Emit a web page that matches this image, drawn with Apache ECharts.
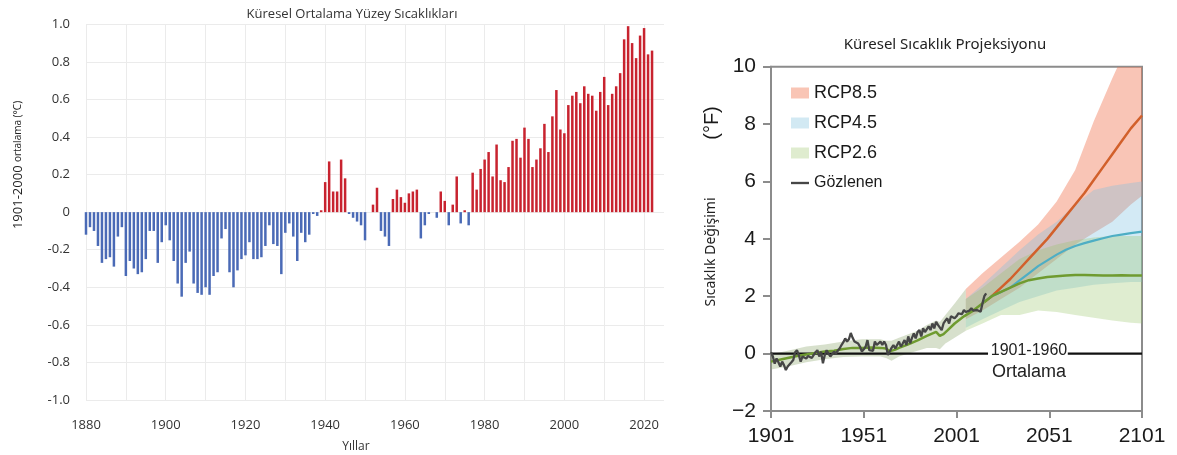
<!DOCTYPE html>
<html><head><meta charset="utf-8">
<script src="https://cdn.jsdelivr.net/npm/echarts@6/dist/echarts.min.js"></script>
<style>html,body{margin:0;padding:0;background:#fff}#c{width:1177px;height:455px}</style>
</head><body><div id="c"></div><script>
// ---------- Left chart: global surface temperature anomalies (°C vs 1901-2000) ----------
const anomalyStartYear = 1880;
const anomalyValues = [
  -0.12,-0.08,-0.10,-0.18,-0.27,-0.25,-0.24,-0.29,-0.13,-0.08, // 1880s
  -0.34,-0.26,-0.30,-0.33,-0.32,-0.25,-0.10,-0.10,-0.27,-0.16, // 1890s
  -0.07,-0.15,-0.26,-0.38,-0.45,-0.27,-0.21,-0.38,-0.43,-0.44, // 1900s
  -0.40,-0.44,-0.34,-0.32,-0.14,-0.09,-0.32,-0.40,-0.31,-0.25, // 1910s
  -0.23,-0.16,-0.25,-0.25,-0.24,-0.18,-0.07,-0.17,-0.18,-0.33, // 1920s
  -0.11,-0.06,-0.13,-0.26,-0.11,-0.16,-0.12,-0.01,-0.02, 0.01, // 1930s
   0.16, 0.27, 0.11, 0.11, 0.28, 0.18,-0.01,-0.03,-0.05,-0.07, // 1940s
  -0.15, 0.00, 0.04, 0.13,-0.10,-0.13,-0.18, 0.07, 0.12, 0.08, // 1950s
   0.05, 0.10, 0.11, 0.12,-0.14,-0.07,-0.01, 0.00,-0.03, 0.11, // 1960s
   0.06,-0.07, 0.04, 0.19,-0.06, 0.01,-0.07, 0.21, 0.12, 0.23, // 1970s
   0.28, 0.32, 0.19, 0.36, 0.17, 0.16, 0.24, 0.38, 0.39, 0.29, // 1980s
   0.45, 0.39, 0.24, 0.28, 0.34, 0.47, 0.32, 0.51, 0.65, 0.44, // 1990s
   0.42, 0.57, 0.62, 0.64, 0.58, 0.67, 0.63, 0.62, 0.54, 0.64, // 2000s
   0.72, 0.57, 0.63, 0.67, 0.74, 0.92, 0.99, 0.90, 0.82, 0.94, // 2010s
   0.98, 0.84, 0.86                                            // 2020s
];
const leftXTicks = [1880, 1900, 1920, 1940, 1960, 1980, 2000, 2020];

// ---------- Right chart: global temperature projection (°F vs 1901-1960) ----------
const obsStartYear = 1901;
const observedF = [
   0.05,-0.10,-0.35,-0.17,-0.30,-0.45,-0.28,-0.40,-0.57,        // 1901-1909
  -0.45,-0.40,-0.30,-0.22, 0.05, 0.12,-0.05,-0.28,-0.10,-0.12, // 1910s
  -0.17,-0.08,-0.05,-0.15,-0.17, 0.05, 0.12,-0.10, 0.07,-0.34, // 1920s
  -0.05, 0.12, 0.00,-0.10,-0.05, 0.07, 0.00, 0.10, 0.18, 0.30, // 1930s
   0.40, 0.53, 0.42, 0.50, 0.72, 0.55, 0.42, 0.47, 0.35, 0.24, // 1940s
   0.07, 0.15, 0.24, 0.47, 0.12, 0.07, 0.10, 0.42, 0.30, 0.35, // 1950s
   0.42, 0.30, 0.42, 0.30,-0.05, 0.07, 0.20, 0.30, 0.18, 0.30, // 1960s
   0.42, 0.24, 0.35, 0.47, 0.30, 0.60, 0.36, 0.55, 0.70, 0.53, // 1970s
   0.75, 0.82, 0.60, 0.88, 0.75, 0.70, 0.95, 0.82, 1.05, 0.88, // 1980s
   1.11, 1.00, 0.94, 0.82, 1.05, 1.15, 1.23, 1.05, 1.30, 1.35, // 1990s
   1.23, 1.30, 1.40, 1.35, 1.38, 1.52, 1.45, 1.46, 1.50, 1.58, // 2000s
   1.50, 1.46, 1.52, 1.58, 1.46, 1.75, 2.00, 2.10              // 2010s
];
const histModelYears = [1901,1905,1910,1915,1920,1925,1930,1935,1940,1945,1950,1955,1960,1963,1965,1968,1970,1975,1980,1985,1990,1992,1994,1996,2000,2005,2010,2016];
const histModelF     = [-0.28,-0.22,-0.15,-0.08,-0.03,0.02,0.07,0.10,0.16,0.20,0.20,0.21,0.20,0.18,0.08,0.14,0.20,0.32,0.46,0.62,0.76,0.62,0.68,0.80,1.05,1.30,1.50,1.80];
const histBandYears = [1901,1910,1920,1930,1940,1950,1960,1963,1966,1970,1980,1985,1990,1992,1995,2000,2006];
const histBandLow   = [-0.55,-0.45,-0.30,-0.20,-0.12,-0.10,-0.10,-0.15,-0.25,-0.10,0.10,0.20,0.20,0.15,0.35,0.55,0.80];
const histBandHigh  = [-0.02,0.10,0.25,0.32,0.42,0.50,0.50,0.45,0.45,0.55,0.80,1.00,1.15,1.10,1.35,1.75,2.25];

const projYears = [2016,2020,2025,2030,2035,2040,2045,2050,2055,2060,2065,2070,2075,2080,2085,2090,2095,2101];
const rcp85Mean = [1.80,2.00,2.30,2.60,2.95,3.30,3.65,4.00,4.40,4.80,5.20,5.60,6.05,6.50,6.95,7.40,7.85,8.30];
const rcp45Mean = [1.80,2.00,2.15,2.30,2.55,2.80,3.05,3.25,3.45,3.62,3.75,3.85,3.94,4.02,4.10,4.15,4.20,4.25];
const rcp26Mean = [1.80,2.00,2.15,2.30,2.45,2.56,2.62,2.67,2.70,2.72,2.74,2.74,2.73,2.72,2.72,2.73,2.72,2.72];

const bandYears = [2006,2015,2025,2035,2045,2055,2065,2075,2085,2095,2101];
const rcp85Low  = [1.20,1.50,1.90,2.30,2.80,3.30,3.80,4.20,4.60,5.20,5.50];
const rcp85High = [2.25,2.80,3.35,3.90,4.50,5.30,6.40,8.10,9.60,11.0,11.9];
const rcp45Low  = [0.90,1.20,1.50,1.80,2.00,2.20,2.30,2.40,2.45,2.50,2.50];
const rcp45High = [1.90,2.40,3.00,3.60,4.15,4.60,5.20,5.70,5.85,5.95,6.00];
const rcp26Low  = [0.80,1.05,1.35,1.35,1.50,1.45,1.35,1.25,1.15,1.08,1.05];
const rcp26High = [1.90,2.30,2.80,3.30,3.60,3.80,3.95,4.05,4.10,4.10,4.10];

const baselineLeft  = [1901, 2018];
const baselineRight = [2061, 2101];
const rightXTicks = [1901, 1951, 2001, 2051, 2101];

// ---------- build ----------
const X0 = 1901; // right x axis offset (value = year - X0)
const barData = anomalyValues.map((v, i) => [anomalyStartYear + i, v]);
const obsData = observedF.map((v, i) => [obsStartYear + i - X0, v]);
const pair = (ys, vs) => ys.map((y, i) => [y - X0, vs[i]]);

function band(name, years, low, high, fill, legendColor) {
  return {
    type: 'custom', name, xAxisIndex: 1, yAxisIndex: 1, silent: true, clip: true,
    data: [[0, 0]], itemStyle: { color: legendColor }, z: 1,
    renderItem(params, api) {
      const top = years.map((y, i) => api.coord([y - X0, high[i]]));
      const bot = years.map((y, i) => api.coord([y - X0, low[i]])).reverse();
      const cs = params.coordSys;
      return {
        type: 'group',
        clipPath: { type: 'rect', shape: { x: cs.x, y: cs.y, width: cs.width, height: cs.height } },
        children: [{ type: 'polygon', shape: { points: top.concat(bot) }, style: { fill: fill, stroke: null } }]
      };
    }
  };
}
function line(name, data, color, width, z) {
  return { type: 'line', name, xAxisIndex: 1, yAxisIndex: 1, data, symbol: 'none', silent: true,
    lineStyle: { color, width }, itemStyle: { color }, z: z || 3, animation: false };
}

const chart = echarts.init(document.getElementById('c'), null, { renderer: 'canvas' });
const leftFont = 'Open Sans';
const rightFont = 'Liberation Sans';
chart.setOption({
  animation: false,
  backgroundColor: '#fff',
  title: [
    { text: 'Küresel Ortalama Yüzey Sıcaklıkları', left: 347, top: 3, textAlign: 'center',
      textStyle: { fontFamily: leftFont, fontSize: 13, fontWeight: 'normal', color: '#333' } },
    { text: 'Küresel Sıcaklık Projeksiyonu', left: 940, top: 32, textAlign: 'center',
      textStyle: { fontFamily: 'Noto Sans', fontSize: 15, fontWeight: 'normal', color: '#222' } }
  ],
  legend: {
    orient: 'vertical', left: 786, top: 78, itemWidth: 18, itemHeight: 11, itemGap: 10,
    selectedMode: false,
    textStyle: { fontFamily: rightFont, fontSize: 18, color: '#1a1a1a', lineHeight: 20 },
    data: [
      { name: 'RCP8.5', icon: 'rect', itemStyle: { color: '#f9c5b5' } },
      { name: 'RCP4.5', icon: 'rect', itemStyle: { color: '#d2e9f3' } },
      { name: 'RCP2.6', icon: 'rect', itemStyle: { color: '#dfeccf' } },
      { name: 'Gözlenen', icon: 'path://M0,0H20V2.6H0Z', itemStyle: { color: '#464646' }, textStyle: { fontSize: 16 } }
    ]
  },
  grid: [
    { left: 86, top: 24.3, width: 578, height: 375.7, containLabel: false },
    { left: 771, top: 66.7, width: 371, height: 344.3, show: true, borderColor: '#8c8c8c', borderWidth: 2, backgroundColor: 'transparent' }
  ],
  xAxis: [
    { type: 'value', gridIndex: 0, min: 1880, max: 2025, interval: 10,
      axisLine: { show: false, onZero: false }, axisTick: { show: false },
      splitLine: { show: true, showMaxLine: false, lineStyle: { color: '#ebebeb', width: 1 } },
      axisLabel: { fontFamily: leftFont, fontSize: 13, color: '#333', margin: 19,
        formatter: v => leftXTicks.includes(v) ? String(v) : '' } },
    { type: 'value', gridIndex: 1, min: 0, max: 200, interval: 50,
      axisLine: { show: true, onZero: false, lineStyle: { color: '#8c8c8c', width: 2 } },
      axisTick: { show: true, length: 7, lineStyle: { color: '#8c8c8c', width: 2 } },
      splitLine: { show: false },
      axisLabel: { fontFamily: rightFont, fontSize: 21, color: '#1a1a1a', margin: 15,
        formatter: v => rightXTicks.includes(v + X0) ? String(v + X0) : '' } }
  ],
  yAxis: [
    { type: 'value', gridIndex: 0, min: -1, max: 1, interval: 0.2,
      axisLine: { show: false, onZero: false }, axisTick: { show: false },
      splitLine: { show: true, lineStyle: { color: '#ebebeb', width: 1 } },
      axisLabel: { fontFamily: leftFont, fontSize: 13, color: '#333', margin: 16,
        formatter: v => Math.abs(v) < 1e-9 ? '0' : v.toFixed(1) } },
    { type: 'value', gridIndex: 1, min: -2, max: 10, interval: 2,
      axisLine: { show: true, onZero: false, lineStyle: { color: '#8c8c8c', width: 2 } },
      axisTick: { show: true, length: 8, lineStyle: { color: '#8c8c8c', width: 2 } },
      splitLine: { show: false },
      axisLabel: { fontFamily: rightFont, fontSize: 21, color: '#1a1a1a', margin: 15,
        formatter: v => String(v).replace('-', '\u2212') } }
  ],
  series: [
    { type: 'bar', name: 'anomaly', xAxisIndex: 0, yAxisIndex: 0, data: barData, barWidth: 2.5, silent: true,
      itemStyle: { color: p => p.value[1] >= 0 ? '#c8232f' : '#4a6ab6' } },
    band('RCP8.5', bandYears, rcp85Low, rcp85High, 'rgba(240,120,85,0.43)', '#f9c5b5'),
    band('RCP4.5', bandYears, rcp45Low, rcp45High, 'rgba(120,190,225,0.33)', '#d2e9f3'),
    band('RCP2.6', bandYears, rcp26Low, rcp26High, 'rgba(150,195,100,0.30)', '#dfeccf'),
    band('hist', histBandYears, histBandLow, histBandHigh, 'rgba(140,165,110,0.35)', '#d7dfcc'),
    line('base1', baselineLeft.map(y => [y - X0, 0]), '#111', 2.2, 2),
    line('base2', baselineRight.map(y => [y - X0, 0]), '#111', 2.2, 2),
    line('hmodel', pair(histModelYears, histModelF), '#6f9b30', 2.5, 3),
    line('m85', pair(projYears, rcp85Mean), '#d2602b', 2.5, 4),
    line('m45', pair(projYears, rcp45Mean), '#4eaec4', 2.2, 4),
    line('m26', pair(projYears, rcp26Mean), '#6f9b30', 2.5, 4),
    line('Gözlenen', obsData, '#464646', 2.3, 5)
  ],
  graphic: [
    { type: 'text', x: 18, y: 165, rotation: Math.PI / 2,
      style: { text: '{a|1901-2000} {b|ortalama (°C)}', textAlign: 'center', textVerticalAlign: 'middle',
        rich: { a: { fontFamily: leftFont, fontSize: 13, fill: '#222' }, b: { fontFamily: leftFont, fontSize: 10, fill: '#222' } } } },
    { type: 'text', x: 356, y: 447,
      style: { text: 'Yıllar', fontFamily: leftFont, fontSize: 12, fill: '#333', textAlign: 'center', textVerticalAlign: 'middle' } },
    { type: 'text', x: 712, y: 123, rotation: Math.PI / 2,
      style: { text: '(°F)', fontFamily: rightFont, fontSize: 20, fill: '#1a1a1a', textAlign: 'center', textVerticalAlign: 'middle' } },
    { type: 'text', x: 711, y: 252, rotation: Math.PI / 2,
      style: { text: 'Sıcaklık Değişimi', fontFamily: 'Noto Sans', fontSize: 14, fill: '#222', textAlign: 'center', textVerticalAlign: 'middle' } },
    { type: 'text', x: 1029, y: 351,
      style: { text: '1901-1960', fontFamily: rightFont, fontSize: 16, fill: '#222', textAlign: 'center', textVerticalAlign: 'middle' } },
    { type: 'text', x: 1029, y: 372,
      style: { text: 'Ortalama', fontFamily: rightFont, fontSize: 18, fill: '#222', textAlign: 'center', textVerticalAlign: 'middle' } }
  ]
});
</script></body></html>
